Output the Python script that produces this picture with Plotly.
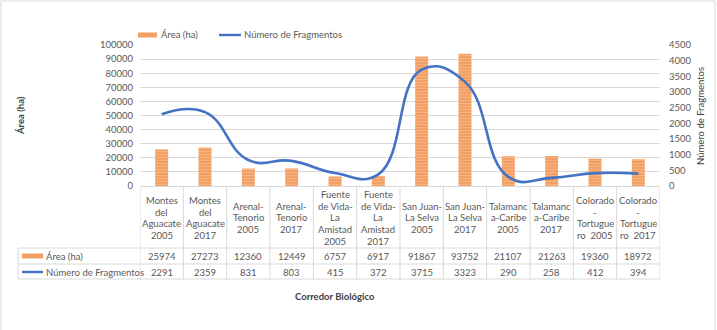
import plotly.graph_objects as go

# Corridor / year categories (line breaks as shown in the data table)
categorias = [
    "Montes<br>del<br>Aguacate<br>2005",
    "Montes<br>del<br>Aguacate<br>2017",
    "Arenal-<br>Tenorio<br>2005",
    "Arenal-<br>Tenorio<br>2017",
    "Fuente<br>de Vida-<br>La<br>Amistad<br>2005",
    "Fuente<br>de Vida-<br>La<br>Amistad<br>2017",
    "San Juan-<br>La Selva<br>2005",
    "San Juan-<br>La Selva<br>2017",
    "Talamanc<br>a-Caribe<br>2005",
    "Talamanc<br>a-Caribe<br>2017",
    "Colorado<br>-<br>Tortugue<br>ro  2005",
    "Colorado<br>-<br>Tortugue<br>ro  2017",
]
area_ha = [25974, 27273, 12360, 12449, 6757, 6917, 91867, 93752, 21107, 21263, 19360, 18972]
num_fragmentos = [2291, 2359, 831, 803, 415, 372, 3715, 3323, 290, 258, 412, 394]

serie_area = "Área (ha)"
serie_frag = "Número de Fragmentos"
y1_ticks = list(range(0, 100001, 10000))
y2_ticks = list(range(0, 4501, 500))

# ---- layout geometry (pixels) ----
W, H = 717, 330
L, R, T, B = 140, 660, 45, 186
TXT = "#595959"
TITLE = "#404040"
GRID = "#D9D9D9"
FONT = "Lato"
FS = 9.5
ORANGE = "#F2A065"
BLUE = "#4472C4"


def px(xp):
    return (xp - L) / (R - L)


def py(yp):
    return (B - yp) / (B - T)


def label(x, y, text, xref="paper", xanchor="center", angle=0, color=TXT, size=FS):
    return dict(x=x, y=y, xref=xref, yref="paper", text=text, showarrow=False,
                xanchor=xanchor, yanchor="middle", textangle=angle,
                font=dict(size=size, color=color, family=FONT))


idx = list(range(len(categorias)))

fig = go.Figure()
fig.add_trace(go.Bar(
    x=idx, y=area_ha, name=serie_area, width=0.3,
    marker=dict(color=ORANGE, line=dict(width=0),
                pattern=dict(shape="-", fgcolor="#F8C6A0", bgcolor=ORANGE,
                             size=3, solidity=0.35)),
    showlegend=False,
))
fig.add_trace(go.Scatter(
    x=idx, y=num_fragmentos, name=serie_frag, yaxis="y2", mode="lines",
    line=dict(color=BLUE, width=2.6, shape="spline", smoothing=1.3),
    showlegend=False,
))

shapes = []
annotations = []

# outer chart border
shapes.append(dict(type="rect", xref="paper", yref="paper",
                   x0=px(1), x1=px(715), y0=py(1), y1=py(331),
                   line=dict(color=GRID, width=1)))

# data table grid
row_top, row1, row2, row_bot = B, 248, 264, 279
for yy in (row1, row2, row_bot):
    shapes.append(dict(type="line", xref="paper", yref="paper",
                       x0=px(18), x1=px(R), y0=py(yy), y1=py(yy),
                       line=dict(color=GRID, width=1)))
shapes.append(dict(type="line", xref="paper", yref="paper",
                   x0=px(18), x1=px(18), y0=py(row1), y1=py(row_bot),
                   line=dict(color=GRID, width=1)))
for i in range(len(categorias) + 1):
    shapes.append(dict(type="line", xref="x", yref="paper",
                       x0=i - 0.5, x1=i - 0.5, y0=py(row_top), y1=py(row_bot),
                       line=dict(color=GRID, width=1)))

# table cell texts: category header lines, then the two value rows
LINE_STEP = 11.6
HEADER_MID = 218
for i, cat in enumerate(categorias):
    lines = cat.split("<br>")
    first = HEADER_MID - LINE_STEP * (len(lines) - 1) / 2
    for k, ln in enumerate(lines):
        annotations.append(label(i, py(first + k * LINE_STEP), ln, xref="x"))
    annotations.append(label(i, py(256.5), str(area_ha[i]), xref="x"))
    annotations.append(label(i, py(272), str(num_fragmentos[i]), xref="x"))

# table row keys
shapes.append(dict(type="rect", xref="paper", yref="paper",
                   x0=px(22), x1=px(43), y0=py(258.5), y1=py(253.5),
                   fillcolor=ORANGE, line=dict(width=0)))
shapes.append(dict(type="line", xref="paper", yref="paper",
                   x0=px(22), x1=px(43), y0=py(272), y1=py(272),
                   line=dict(color=BLUE, width=2.4)))
annotations.append(label(px(44), py(256.5), serie_area, xanchor="left"))
annotations.append(label(px(44), py(272), serie_frag, xanchor="left"))

# legend at top
shapes.append(dict(type="rect", xref="paper", yref="paper",
                   x0=px(138), x1=px(157), y0=py(37.5), y1=py(32.5),
                   fillcolor=ORANGE, line=dict(width=0)))
shapes.append(dict(type="line", xref="paper", yref="paper",
                   x0=px(219), x1=px(241), y0=py(35), y1=py(35),
                   line=dict(color=BLUE, width=2.4)))
annotations.append(label(px(159), py(35), serie_area, xanchor="left"))
annotations.append(label(px(242), py(35), serie_frag, xanchor="left"))

# axis titles
annotations.append(label(px(20), py(116), "<b>Área (ha)</b>", angle=-90, color=TITLE))
annotations.append(label(px(700), py(116), serie_frag, angle=-90, color=TITLE))
annotations.append(label(px(335), py(296), "<b>Corredor Biológico</b>", color=TITLE))

fig.update_layout(
    width=W, height=H,
    margin=dict(l=L, r=W - R, t=T, b=H - B, pad=0),
    paper_bgcolor="white", plot_bgcolor="white",
    font=dict(family=FONT, size=FS, color=TXT),
    xaxis=dict(range=[-0.5, len(categorias) - 0.5], showticklabels=False, showgrid=False,
               zeroline=False, showline=True, linecolor=GRID, linewidth=1, ticks=""),
    yaxis=dict(range=[0, 100000], tickvals=y1_ticks, tickformat="d", gridcolor=GRID,
               gridwidth=1, zeroline=False, showline=False, ticks="", ticklabelstandoff=6,
               tickfont=dict(size=FS, color=TXT, family=FONT)),
    yaxis2=dict(range=[0, 4500], tickvals=y2_ticks, tickformat="d", overlaying="y",
                side="right", showgrid=False, zeroline=False, showline=False, ticks="",
                ticklabelstandoff=8, tickfont=dict(size=FS, color=TXT, family=FONT)),
    shapes=shapes,
    annotations=annotations,
    showlegend=False,
)

fig.write_html("out.html")
